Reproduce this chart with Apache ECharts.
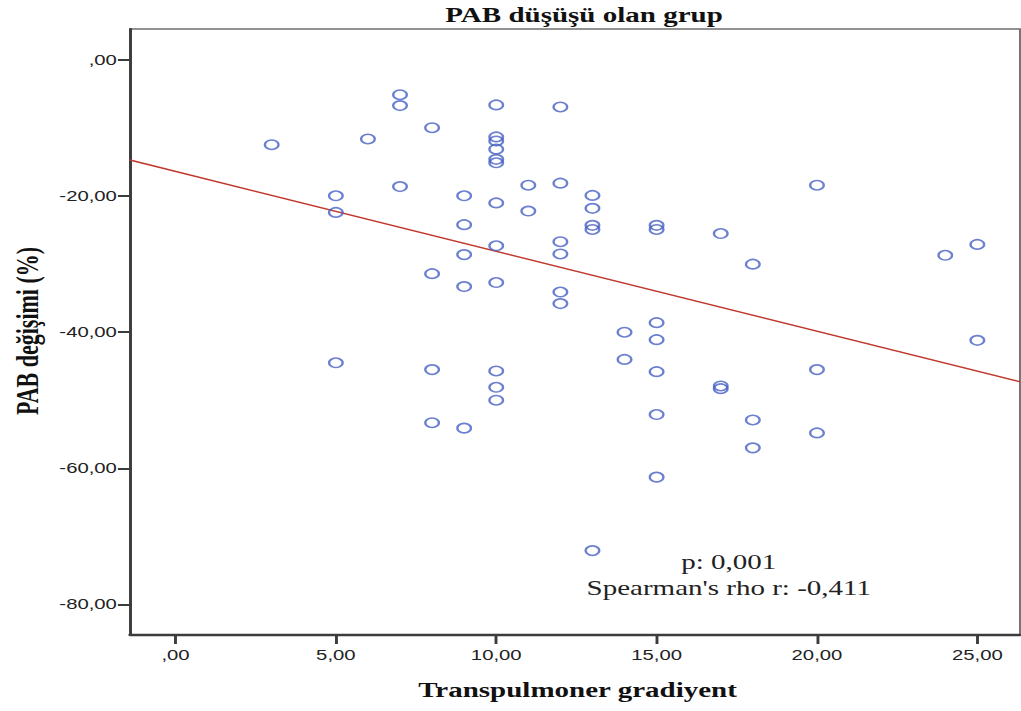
<!DOCTYPE html>
<html>
<head>
<meta charset="utf-8">
<script src="https://cdn.jsdelivr.net/npm/echarts@6/dist/echarts.min.js"></script>
<style>
  html, body { margin: 0; padding: 0; background: #fff; overflow: hidden; }
  #c { width: 704px; height: 711px; transform: scaleX(1.4503); transform-origin: 0 0; }
</style>
</head>
<body>
<div id="c"></div>
<script>
// Transpulmoner gradiyent (x) and PAB değişimi % (y) for each case
const gradient = [
  3,
  5, 5, 5,
  6,
  7, 7, 7,
  8, 8, 8, 8,
  9, 9, 9, 9, 9,
  10, 10, 10, 10, 10, 10, 10, 10, 10, 10, 10, 10,
  11, 11,
  12, 12, 12, 12, 12, 12,
  13, 13, 13, 13, 13,
  14, 14,
  15, 15, 15, 15, 15, 15, 15,
  17, 17, 17,
  18, 18, 18,
  20, 20, 20,
  24,
  25, 25
];
const pabChange = [
  -12.45,
  -19.95, -22.4, -44.5,
  -11.6,
  -5.1, -6.7, -18.6,
  -9.95, -31.4, -45.5, -53.3,
  -19.95, -24.2, -28.6, -33.3, -54.1,
  -6.6, -11.3, -11.9, -13.1, -14.6, -15.1, -21.0, -27.3, -32.7, -45.7, -48.1, -50.0,
  -18.4, -22.2,
  -6.9, -18.1, -26.7, -28.5, -34.1, -35.8,
  -19.9, -21.8, -24.3, -24.9, -72.1,
  -40.0, -44.0,
  -24.3, -24.9, -38.6, -41.1, -45.8, -52.1, -61.3,
  -25.5, -47.9, -48.3,
  -30.0, -52.9, -57.0,
  -18.4, -45.5, -54.8,
  -28.7,
  -27.1, -41.2
];
// Fit line end points
const fitX = [-1.42, 26.33];
const fitY = [-14.7, -47.3];

// Tick values and labels
const xTicks = [0, 5, 10, 15, 20, 25];
const xTickLabels = [',00', '5,00', '10,00', '15,00', '20,00', '25,00'];
const yTicks = [0, -20, -40, -60, -80];
const yTickLabels = [',00', '-20,00', '-40,00', '-60,00', '-80,00'];

const titleText = 'PAB düşüşü olan grup';
const xTitle = 'Transpulmoner gradiyent';
const yTitle = 'PAB değişimi (%)';
const noteLines = ['p: 0,001', "Spearman's rho r: -0,411"];

const points = gradient.map((g, i) => [g, pabChange[i]]);
const fitLine = fitX.map((x, i) => [x, fitY[i]]);

const chart = echarts.init(document.getElementById('c'), null, { renderer: 'svg' });
const serif = '"Liberation Serif", "Times New Roman", serif';
const sans = '"Liberation Sans", Arial, sans-serif';

chart.setOption({
  animation: false,
  backgroundColor: '#ffffff',
  grid: {
    left: 89.6, top: 29, width: 613.7, height: 606,
    show: true, borderColor: '#6e6e6e', borderWidth: 1.3, backgroundColor: 'transparent'
  },
  xAxis: {
    type: 'value', min: -1.42, max: 26.33,
    axisLine: { show: true, onZero: false, lineStyle: { color: '#3c3c3c', width: 2.3 } },
    axisTick: { show: true, customValues: xTicks, length: 9, inside: false, lineStyle: { color: '#3c3c3c', width: 2 } },
    axisLabel: {
      customValues: xTicks,
      formatter: v => xTickLabels[xTicks.indexOf(v)],
      fontFamily: sans, fontSize: 14, color: '#222', margin: 13
    },
    splitLine: { show: false }
  },
  yAxis: {
    type: 'value', min: -84.5, max: 4.556,
    axisLine: { show: true, onZero: false, lineStyle: { color: '#3c3c3c', width: 2 } },
    axisTick: { show: true, customValues: yTicks, length: 8.3, inside: false, lineStyle: { color: '#3c3c3c', width: 2 } },
    axisLabel: {
      customValues: yTicks,
      formatter: v => yTickLabels[yTicks.indexOf(v)],
      fontFamily: sans, fontSize: 14, color: '#222', margin: 9
    },
    splitLine: { show: false }
  },
  series: [
    {
      type: 'line', data: fitLine, showSymbol: false, silent: true, z: 1,
      lineStyle: { color: '#c0392f', width: 1.4 }
    },
    {
      type: 'scatter', data: points, symbol: 'circle', symbolSize: 9.4, z: 2,
      itemStyle: { color: 'rgba(0,0,0,0)', borderColor: '#4660c4', borderWidth: 1.6 }
    }
  ],
  graphic: [
    { type: 'text', x: 402.7, y: 15, style: { text: titleText, font: 'bold 20px ' + serif, fill: '#111', align: 'center', verticalAlign: 'middle' } },
    { type: 'text', x: 398.2, y: 690, style: { text: xTitle, font: 'bold 20px ' + serif, fill: '#111', align: 'center', verticalAlign: 'middle' } },
    { type: 'text', x: 19.3, y: 331, rotation: Math.PI / 2, style: { text: yTitle, font: 'bold 22px ' + serif, fill: '#111', align: 'center', verticalAlign: 'middle' } },
    { type: 'text', x: 502.5, y: 562, style: { text: noteLines[0], font: '20px ' + serif, fill: '#222', align: 'center', verticalAlign: 'middle' } },
    { type: 'text', x: 502.5, y: 588.5, style: { text: noteLines[1], font: '20px ' + serif, fill: '#222', align: 'center', verticalAlign: 'middle' } }
  ]
});
</script>
</body>
</html>
